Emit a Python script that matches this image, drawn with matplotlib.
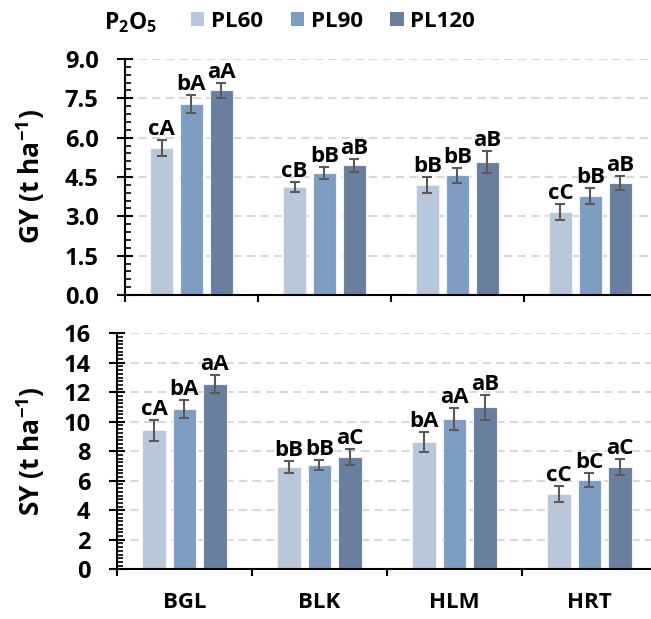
import numpy as np
import matplotlib
import matplotlib.pyplot as plt
from matplotlib.patches import Patch
from matplotlib.ticker import MultipleLocator

matplotlib.use('Agg')

plt.rcParams['font.family'] = ['Open Sans', 'DejaVu Sans']
plt.rcParams['font.weight'] = 'bold'
plt.rcParams['mathtext.fontset'] = 'custom'
plt.rcParams['mathtext.rm'] = 'Open Sans:bold'
plt.rcParams['mathtext.bf'] = 'Open Sans:bold'
plt.rcParams['mathtext.default'] = 'bf'

sites = ['BGL', 'BLK', 'HLM', 'HRT']
levels = ['PL60', 'PL90', 'PL120']
colors = ['#B9C7DA', '#7F9DC1', '#687F9D']

# grain yield (t/ha)
gy_pl60 = [5.60, 4.13, 4.20, 3.17]
gy_pl90 = [7.29, 4.64, 4.57, 3.77]
gy_pl120 = [7.80, 4.94, 5.08, 4.27]
gy_err60 = [0.30, 0.19, 0.30, 0.30]
gy_err90 = [0.34, 0.23, 0.29, 0.30]
gy_err120 = [0.30, 0.24, 0.42, 0.27]
gy_let60 = ['cA', 'cB', 'bB', 'cC']
gy_let90 = ['bA', 'bB', 'bB', 'bB']
gy_let120 = ['aA', 'aB', 'aB', 'aB']

# straw yield (t/ha)
sy_pl60 = [9.42, 6.94, 8.63, 5.13]
sy_pl90 = [10.85, 7.07, 10.19, 6.03]
sy_pl120 = [12.54, 7.61, 10.98, 6.94]
sy_err60 = [0.73, 0.42, 0.67, 0.55]
sy_err90 = [0.61, 0.34, 0.73, 0.47]
sy_err120 = [0.60, 0.54, 0.86, 0.54]
sy_let60 = ['cA', 'bB', 'bA', 'cC']
sy_let90 = ['bA', 'bB', 'aA', 'bC']
sy_let120 = ['aA', 'aC', 'aB', 'aC']

fig = plt.figure(figsize=(6.51, 6.19), dpi=100)
ax1 = fig.add_axes([0.192, 0.5234, 0.817, 0.3813])
ax2 = fig.add_axes([0.1797, 0.0803, 0.8295, 0.3813])

x = np.arange(len(sites)) + 0.5
offsets = [-0.225, 0, 0.225]
width = 0.176


def draw_panel(ax, vals, errs, lets, ymax, major, minor, fmt):
    for i in range(3):
        xs = x + offsets[i]
        ax.bar(xs, vals[i], width, color=colors[i], edgecolor='#EEF2F7',
               linewidth=0.8, zorder=2)
        ax.errorbar(xs, vals[i], yerr=errs[i], fmt='none', ecolor='#595959',
                    elinewidth=1.5, capsize=3.5, capthick=1.5, zorder=3)
        for xi, v, e, t in zip(xs, vals[i], errs[i], lets[i]):
            ax.annotate(t, (xi, v + e), xytext=(0, 0), textcoords='offset points',
                        ha='center', va='bottom', fontsize=16, fontweight='bold')
    ax.set_xlim(0, 4)
    ax.set_ylim(0, ymax)
    ax.yaxis.set_major_locator(MultipleLocator(major))
    ax.yaxis.set_minor_locator(MultipleLocator(minor))
    ax.yaxis.set_major_formatter(fmt)
    ax.set_xticks(np.arange(0, 5))
    ax.set_xticklabels([])
    ax.grid(axis='y', color='#D9D9D9', linestyle=(0, (4, 2.5)), linewidth=1.5, zorder=0)
    ax.set_axisbelow(True)
    for s in ['top', 'right']:
        ax.spines[s].set_visible(False)
    for s in ['left', 'bottom']:
        ax.spines[s].set_linewidth(1.5)
    ax.tick_params(axis='y', which='major', direction='inout', length=12, width=1.5,
                   labelsize=17, pad=13)
    ax.tick_params(axis='y', which='minor', direction='in', length=4.5, width=1.2)
    ax.tick_params(axis='x', which='major', direction='out', length=5, width=1.5)
    for lab in ax.get_yticklabels():
        lab.set_fontweight('bold')


draw_panel(ax1, [gy_pl60, gy_pl90, gy_pl120], [gy_err60, gy_err90, gy_err120],
           [gy_let60, gy_let90, gy_let120], 9, 1.5, 0.3, '{x:.1f}')
draw_panel(ax2, [sy_pl60, sy_pl90, sy_pl120], [sy_err60, sy_err90, sy_err120],
           [sy_let60, sy_let90, sy_let120], 16, 2, 0.25, '{x:.0f}')

ax2.set_xticks(x, minor=True)
ax2.set_xticklabels(sites, minor=True, fontsize=16, fontweight='bold')
ax2.tick_params(axis='x', which='minor', length=0, pad=16)

fig.text(0.047, 0.7140, 'GY (t ha$^{-1}$)', rotation=90, ha='center', va='center',
         fontsize=19, fontweight='bold')
fig.text(0.047, 0.2710, 'SY (t ha$^{-1}$)', rotation=90, ha='center', va='center',
         fontsize=19, fontweight='bold')

# legend
fig.text(0.159, 0.963, 'P$_2$O$_5$', ha='left', va='center', fontsize=16.5, fontweight='bold')
handles = [Patch(facecolor=c, edgecolor='none') for c in colors]
fig.legend(handles, levels, ncol=3, loc='center left', bbox_to_anchor=(0.293, 0.965),
           frameon=False, handlelength=0.6, handleheight=0.6,
           handletextpad=0.3, columnspacing=1.25, borderaxespad=0, borderpad=0,
           prop={'weight': 'bold', 'size': 16})

fig.savefig('out.png', dpi=100)
plt.close(fig)
